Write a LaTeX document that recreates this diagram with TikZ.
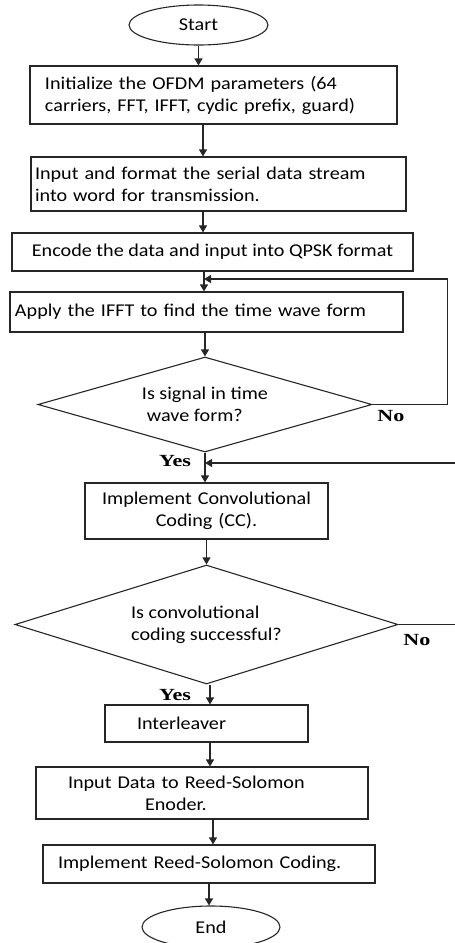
\documentclass[tikz,border=0pt]{standalone}
\usepackage{fontspec}
\setmainfont{Carlito}[FakeStretch=1.12]
\newfontfamily\answerfont{Liberation Serif}[FakeStretch=1.3]
\usetikzlibrary{shapes.geometric,arrows.meta}

\tikzset{
  process/.style={draw=black!85,line width=1.1pt,rectangle,align=left,inner ysep=0pt,font=\fontsize{18}{22}\selectfont},
  decision/.style={draw=black!85,line width=1.1pt,diamond,aspect=3.5,inner sep=0pt,align=left,font=\fontsize{18}{22}\selectfont},
  terminal/.style={draw=black!85,line width=1.1pt,ellipse,inner sep=0pt,font=\fontsize{18}{22}\selectfont},
  answer/.style={inner sep=0pt,font=\fontsize{17}{19}\selectfont\answerfont\bfseries},
  flow/.style={black!85,line width=1.1pt,-{Triangle[length=7pt,width=8pt]}}
}

\begin{document}
\begin{tikzpicture}[x=1pt,y=-1pt]
  \useasboundingbox (0,0) rectangle (455,943);

  \node[terminal,minimum width=139pt,minimum height=40pt] (start) at (198.5,25) {Start};
  \node[process,text width=337pt,inner xsep=15pt,minimum height=58pt] (init) at (213.5,95) {Initialize the OFDM parameters (64\\carriers, FFT, IFFT, cydic prefix, guard)};
  \node[process,text width=367pt,inner xsep=4pt,minimum height=54pt] (data) at (218.5,184) {Input and format the serial data stream\\into word for transmission.};
  \node[process,minimum width=401pt,minimum height=38pt] (encode) at (212.5,252) {Encode the data and input into QPSK format};
  \node[process,text width=383pt,inner xsep=5pt,minimum height=40pt] (ifft) at (206.5,312) {Apply the IFFT to find the time wave form};
  \node[decision,minimum width=334pt,minimum height=95pt] (signal) at (205,404.5) {Is signal in time\\\hspace*{5pt}wave form?};
  \node[process,align=center,text width=223pt,inner xsep=10pt,minimum height=56pt] (conv) at (206.5,511) {Implement Convolutional\\Coding (CC).};
  \node[decision,minimum width=383pt,minimum height=119pt] (success) at (206.5,624.5) {Is convolutional\\coding successful?};
  \node[process,text width=139pt,inner xsep=32pt,minimum height=37pt] (inter) at (206.5,723.5) {Interleaver};
  \node[process,text width=268pt,inner xsep=32pt,minimum height=52pt] (rsinput) at (202,793) {Input Data to Reed-Solomon\\\hspace*{77pt}Enoder.};
  \node[process,text width=302pt,inner xsep=15pt,minimum height=38pt] (rscode) at (209,864) {Implement Reed-Solomon Coding.};
  \node[terminal,minimum width=138pt,minimum height=42pt] (stop) at (211,927) {End};

  \node[answer] (no1) at (391,416) {No};
  \node[answer] (yes1) at (175,461) {Yes};
  \node[answer] (no2) at (417,640) {No};
  \node[answer] (yes2) at (175,695) {Yes};

  \coordinate (loopjoin) at (204,279);
  \coordinate (yesjoin) at (205,463);

  \draw[flow] (start) -- (start |- init.north);
  \draw[flow] ([xshift=-10.5pt]init.south) -- ([xshift=-10.5pt]init.south |- data.north);
  \draw[flow] ([xshift=-15.5pt]data.south) -- ([xshift=-15.5pt]data.south |- encode.north);
  \draw[flow] (loopjoin |- encode.south) -- (loopjoin |- ifft.north);
  \draw[flow] (signal.north |- ifft.south) -- (signal.north);
  \draw[flow] (signal.east) -- ++(75pt,0) |- (loopjoin);
  \draw[flow] (signal.south) -- (signal.south |- conv.north);
  \draw[flow] (success.east) -- ++(60pt,0) |- (yesjoin);
  \draw[flow] (conv.south) -- (success.north);
  \draw[flow] ([xshift=3.5pt]success.south) -- ([xshift=3.5pt]success.south |- inter.north);
  \draw[flow] ([xshift=3.5pt]inter.south) -- ([xshift=3.5pt]inter.south |- rsinput.north);
  \draw[flow] ([xshift=11pt]rsinput.south) -- ([xshift=11pt]rsinput.south |- rscode.north);
  \draw[flow] (rscode.south) -- (rscode.south |- stop.north);
\end{tikzpicture}
\end{document}
